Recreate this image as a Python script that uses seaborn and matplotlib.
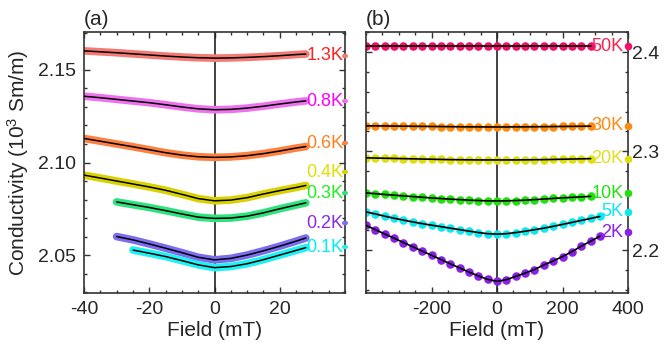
import numpy as np
import pandas as pd
import matplotlib
matplotlib.use("Agg")
import matplotlib.pyplot as plt
import matplotlib.transforms as mtransforms
from matplotlib.ticker import MultipleLocator, FormatStrFormatter
import seaborn as sns

# ---------------- data: panel (a) ----------------
field_a = [-40, -35, -30, -25, -20, -15, -10, -5, 0, 5, 10, 15, 20, 25, 28]
sig_1p3K = [2.1603, 2.1598, 2.1593, 2.1587, 2.1581, 2.1575, 2.1570, 2.1566, 2.1564,
            2.1565, 2.1568, 2.1572, 2.1577, 2.1583, 2.1586]
sig_0p8K = [2.1358, 2.1350, 2.1341, 2.1332, 2.1323, 2.1312, 2.1300, 2.1290, 2.1285,
            2.1287, 2.1294, 2.1304, 2.1316, 2.1327, 2.1333]
sig_0p6K = [2.1130, 2.1115, 2.1100, 2.1085, 2.1069, 2.1053, 2.1040, 2.1031, 2.1028,
            2.1030, 2.1037, 2.1048, 2.1062, 2.1078, 2.1086]
sig_0p4K = [2.0932, 2.0916, 2.0900, 2.0884, 2.0868, 2.0850, 2.0828, 2.0805, 2.0793,
            2.0797, 2.0810, 2.0830, 2.0848, 2.0865, 2.0876]
field_0p3K = [-30, -25, -20, -15, -10, -5, 0, 5, 10, 15, 20, 25, 28]
sig_0p3K = [2.0787, 2.0772, 2.0757, 2.0740, 2.0722, 2.0705, 2.0698, 2.0700, 2.0710,
            2.0728, 2.0750, 2.0770, 2.0782]
field_0p2K = [-30, -25, -20, -15, -10, -5, 0, 5, 10, 15, 20, 25, 28]
sig_0p2K = [2.0600, 2.0582, 2.0560, 2.0537, 2.0513, 2.0488, 2.0474, 2.0482, 2.0500,
            2.0523, 2.0548, 2.0575, 2.0592]
field_0p1K = [-25, -20, -15, -10, -5, 0, 5, 10, 15, 20, 25, 28]
sig_0p1K = [2.0527, 2.0510, 2.0492, 2.0470, 2.0447, 2.0432, 2.0438, 2.0453, 2.0475,
            2.0500, 2.0525, 2.0540]

labels_a = ["1.3K", "0.8K", "0.6K", "0.4K", "0.3K", "0.2K", "0.1K"]

# ---------------- data: panel (b) ----------------
field_b = [-400, -371, -343, -314, -286, -257, -229, -200, -171, -143, -114, -86, -57,
           -29, 0, 29, 57, 86, 114, 143, 171, 200, 229, 257, 286]
field_b_long = field_b + [314]
sig_50K = [2.4059] * 25
sig_30K = [2.3255, 2.3255, 2.3254, 2.3253, 2.3252, 2.3251, 2.3250, 2.3249, 2.3248,
           2.3247, 2.3246, 2.3245, 2.3245, 2.3244, 2.3244, 2.3244, 2.3245, 2.3245,
           2.3246, 2.3247, 2.3248, 2.3249, 2.3250, 2.3251, 2.3252]
sig_20K = [2.2932, 2.2930, 2.2928, 2.2926, 2.2924, 2.2922, 2.2920, 2.2918, 2.2916,
           2.2914, 2.2913, 2.2912, 2.2911, 2.2911, 2.2911, 2.2911, 2.2911, 2.2912,
           2.2913, 2.2914, 2.2916, 2.2918, 2.2920, 2.2922, 2.2924]
sig_10K = [2.2578, 2.2570, 2.2562, 2.2555, 2.2548, 2.2541, 2.2534, 2.2527, 2.2521,
           2.2515, 2.2510, 2.2505, 2.2501, 2.2498, 2.2497, 2.2498, 2.2501, 2.2505,
           2.2510, 2.2516, 2.2522, 2.2528, 2.2533, 2.2538, 2.2543]
sig_5K = [2.2386, 2.2365, 2.2343, 2.2322, 2.2303, 2.2285, 2.2268, 2.2252, 2.2237,
          2.2222, 2.2207, 2.2192, 2.2178, 2.2166, 2.2162, 2.2166, 2.2177, 2.2191,
          2.2206, 2.2222, 2.2240, 2.2260, 2.2280, 2.2300, 2.2320, 2.2340]
sig_2K = [2.2250, 2.2206, 2.2163, 2.2120, 2.2077, 2.2034, 2.1991, 2.1948, 2.1905,
          2.1862, 2.1820, 2.1779, 2.1740, 2.1705, 2.1685, 2.1702, 2.1735, 2.1768,
          2.1804, 2.1850, 2.1890, 2.1935, 2.1985, 2.2040, 2.2090, 2.2140]

labels_b = ["50K", "30K", "20K", "10K", "5K", "2K"]

# ---------------- styling ----------------
sns.set_style("ticks")
plt.rcParams["font.family"] = ["Liberation Sans", "DejaVu Sans"]
plt.rcParams["mathtext.fontset"] = "custom"
plt.rcParams["mathtext.rm"] = "Liberation Sans"
plt.rcParams["mathtext.it"] = "Liberation Sans"
plt.rcParams["axes.unicode_minus"] = False

band_a = ["#F47A74", "#EE72EE", "#FF8040", "#D9D200", "#2EE27E", "#7C6CF0", "#1EF2F2"]
text_a = ["#FF2020", "#FF00FF", "#FF8020", "#E0E000", "#22EE22", "#8A2BE2", "#00F0F0"]
label_y_a = [2.1576, 2.1332, 2.1105, 2.0948, 2.0835, 2.0673, 2.0543]

col_b = ["#F0106A", "#FF8A10", "#DEDE10", "#22E010", "#10E8F0", "#8A20E8"]
text_b = ["#FF2050", "#FF8A10", "#E0E020", "#22E010", "#10E8F0", "#8A20E8"]
label_y_b = [2.4059, 2.3254, 2.2925, 2.2574, 2.2389, 2.2183]

fig = plt.figure(figsize=(6.64, 3.5), dpi=100)
ax_a = fig.add_axes([84 / 664, 57 / 350, (345 - 84) / 664, (293 - 32) / 350])
ax_b = fig.add_axes([366 / 664, 57 / 350, (628 - 366) / 664, (293 - 32) / 350])

# panel (a)
series_a = [(field_a, sig_1p3K), (field_a, sig_0p8K), (field_a, sig_0p6K),
            (field_a, sig_0p4K), (field_0p3K, sig_0p3K), (field_0p2K, sig_0p2K),
            (field_0p1K, sig_0p1K)]
ax_a.axvline(0, color="#222222", lw=1.2, zorder=1)
for (fx, sy), bc in zip(series_a, band_a):
    df = pd.DataFrame({"B": fx, "s": sy})
    sns.lineplot(data=df, x="B", y="s", ax=ax_a, color=bc, lw=5.5, sort=False,
                 estimator=None, solid_capstyle="round", zorder=2)
    sns.lineplot(data=df, x="B", y="s", ax=ax_a, color="black", lw=1.1, sort=False,
                 estimator=None, zorder=3)
trans_a = mtransforms.blended_transform_factory(ax_a.transAxes, ax_a.transData)
for lab, ly, tc, bc in zip(labels_a, label_y_a, text_a, band_a):
    ax_a.text(39.6, ly, lab, color=tc, fontsize=13, ha="right", va="center", zorder=5)
    ax_a.plot([0.995, 1.005], [ly, ly], color=bc, lw=3, transform=trans_a,
              clip_on=False, zorder=6)

ax_a.set_xlim(-40, 40)
ax_a.set_ylim(2.0295, 2.1705)
ax_a.set_xticks([-40, -20, 0, 20])
ax_a.xaxis.set_minor_locator(MultipleLocator(5))
ax_a.set_yticks([2.05, 2.10, 2.15])
ax_a.yaxis.set_major_formatter(FormatStrFormatter("%.2f"))
ax_a.yaxis.set_minor_locator(MultipleLocator(0.01))
ax_a.set_xlabel("Field (mT)", fontsize=15, labelpad=2)
ax_a.set_ylabel("Conductivity (10$^3$ Sm/m)", fontsize=15, labelpad=5)
ax_a.text(0.0, 1.012, "(a)", transform=ax_a.transAxes, fontsize=15, ha="left",
          va="bottom")

# panel (b)
series_b = [(field_b, sig_50K), (field_b, sig_30K), (field_b, sig_20K),
            (field_b, sig_10K), (field_b_long, sig_5K), (field_b_long, sig_2K)]
ax_b.axvline(0, color="#222222", lw=1.2, zorder=1)
for (fx, sy), c in zip(series_b, col_b):
    df = pd.DataFrame({"B": fx, "s": sy})
    sns.scatterplot(data=df, x="B", y="s", ax=ax_b, color=c, s=38, linewidth=0,
                    zorder=2)
    sns.lineplot(data=df, x="B", y="s", ax=ax_b, color="black", lw=1.2, sort=False,
                 estimator=None, zorder=3)
trans_b = mtransforms.blended_transform_factory(ax_b.transAxes, ax_b.transData)
for lab, ly, tc, c in zip(labels_b, label_y_b, text_b, col_b):
    ax_b.text(386, ly, lab, color=tc, fontsize=13, ha="right", va="center", zorder=5)
    ax_b.scatter([1.0], [ly], color=c, s=30, linewidth=0, transform=trans_b,
                 clip_on=False, zorder=6)

ax_b.set_xlim(-400, 400)
ax_b.set_ylim(2.1567, 2.4203)
ax_b.set_xticks([-200, 0, 200, 400])
ax_b.xaxis.set_minor_locator(MultipleLocator(50))
ax_b.set_yticks([2.2, 2.3, 2.4])
ax_b.yaxis.set_major_formatter(FormatStrFormatter("%.1f"))
ax_b.yaxis.set_minor_locator(MultipleLocator(0.02))
ax_b.yaxis.tick_right()
ax_b.set_xlabel("Field (mT)", fontsize=15, labelpad=2)
ax_b.set_ylabel("")
ax_b.text(0.0, 1.012, "(b)", transform=ax_b.transAxes, fontsize=15, ha="left",
          va="bottom")

for ax in (ax_a, ax_b):
    for sp in ax.spines.values():
        sp.set_visible(True)
        sp.set_color("#333333")
        sp.set_linewidth(1.2)
    ax.tick_params(which="both", direction="in", top=True, bottom=True, left=True,
                   right=True, color="#333333", width=1.0)
    ax.tick_params(which="major", length=4.5, labelsize=14)
    ax.tick_params(which="minor", length=2.5)
    ax.tick_params(axis="x", which="major", pad=6)
ax_a.tick_params(axis="y", which="major", pad=6)
ax_b.tick_params(axis="y", which="both", labelleft=False, labelright=True)
ax_b.tick_params(axis="y", which="major", pad=3)

fig.savefig("out.png", dpi=100)
